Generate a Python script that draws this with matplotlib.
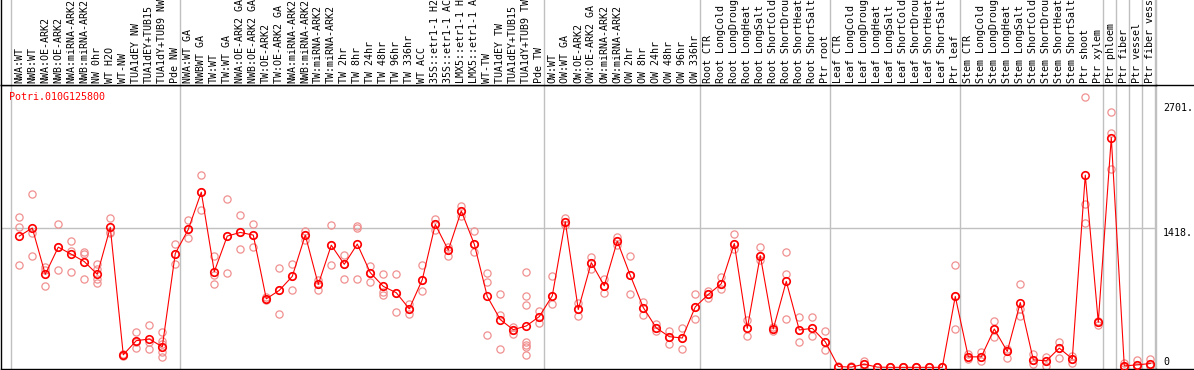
import matplotlib
matplotlib.use('Agg')
import matplotlib.pyplot as plt
from matplotlib.lines import Line2D
from matplotlib.transforms import blended_transform_factory

gene = 'Potri.010G125800'

names = [
    'NWA:WT', 'NWB:WT', 'NWA:OE-ARK2', 'NWB:OE-ARK2', 'NWA:miRNA-ARK2', 'NWB:miRNA-ARK2',
    'NW 0hr', 'WT H2O', 'WT-NW', 'TUA1dEY NW', 'TUA1dEY+TUB15', 'TUA1dY+TUB9 NW', 'Pde NW',
    'NWA:WT GA', 'NWBWT GA', 'TW:WT', 'TW:WT GA', 'NWA:OE-ARK2 GA', 'NWB:OE-ARK2 GA',
    'TW:OE-ARK2', 'TW:OE-ARK2 GA', 'NWA:miRNA-ARK2', 'NWB:miRNA-ARK2', 'TW:miRNA-ARK2',
    'TW:miRNA-ARK2', 'TW 2hr', 'TW 8hr', 'TW 24hr', 'TW 48hr', 'TW 96hr', 'TW 336hr',
    'WT ACC', '35S::etr1-1 H2O', '35S::etr1-1 ACC', 'LMX5::etr1-1 H2O', 'LMX5::etr1-1 ACC',
    'WT-TW', 'TUA1dEY TW', 'TUA1dEY+TUB15', 'TUA1dY+TUB9 TW', 'Pde TW',
    'OW:WT', 'OW:WT GA', 'OW:OE-ARK2', 'OW:OE-ARK2 GA', 'OW:miRNA-ARK2', 'OW:miRNA-ARK2',
    'OW 2hr', 'OW 8hr', 'OW 24hr', 'OW 48hr', 'OW 96hr', 'OW 336hr',
    'Root CTR', 'Root LongCold', 'Root LongDrought', 'Root LongHeat', 'Root LongSalt',
    'Root ShortCold', 'Root ShortDrought', 'Root ShortHeat', 'Root ShortSalt', 'Ptr root',
    'Leaf CTR', 'Leaf LongCold', 'Leaf LongDrought', 'Leaf LongHeat', 'Leaf LongSalt',
    'Leaf ShortCold', 'Leaf ShortDrought', 'Leaf ShortHeat', 'Leaf ShortSalt', 'Ptr leaf',
    'Stem CTR', 'Stem LongCold', 'Stem LongDrought', 'Stem LongHeat', 'Stem LongSalt',
    'Stem ShortCold', 'Stem ShortDrought', 'Stem ShortHeat', 'Stem ShortSalt',
    'Ptr shoot', 'Ptr xylem', 'Ptr phloem', 'Ptr fiber', 'Ptr vessel', 'Ptr fiber vessel',
]

means = [
    1339, 1421, 949, 1226, 1154, 1079, 949, 1428, 128, 272, 289, 210, 1161,
    1407, 1787, 976, 1339, 1376, 1349, 699, 785, 928, 1349, 846, 1246, 1051, 1257,
    966, 826, 761, 597, 894, 1458, 1195, 1595, 1257, 723, 487, 384, 422, 518,
    730, 1486, 590, 1068, 832, 1287, 938, 610, 402, 313, 299, 617,
    743, 853, 1263, 398, 1140, 391, 877, 381, 398, 261,
    8, 2, 32, 2, 0, 0, 0, 0, 0, 723,
    107, 107, 391, 162, 661, 77, 66, 196, 87, 1961, 460,
    2344, 15, 25, 39,
]

reps = [
    [1530, 1428, 1041], [1766, 1366, 1133], [1024, 990, 832], [1458, 1226, 997],
    [1287, 1188, 976], [1178, 1154, 904], [1058, 1000, 904, 860], [1520, 1380, 1373],
    [135, 128, 120], [357, 262, 196], [436, 254, 186], [357, 265, 237, 152, 107],
    [1253, 1161, 1058],
    [1503, 1407, 1322], [1961, 1787, 1605], [1133, 938, 853], [1715, 1339, 966],
    [1551, 1376, 1212], [1458, 1349, 1229], [716, 699, 682], [1017, 785, 545],
    [1058, 928, 791], [1393, 1349, 1298], [887, 846, 791], [1448, 1246, 1041],
    [1147, 1051, 897], [1441, 1421, 897], [1031, 966, 874], [956, 764, 740],
    [956, 761, 569], [641, 597, 545], [1041, 894, 774], [1513, 1458, 1400],
    [1229, 1195, 1137], [1646, 1595, 1545], [1390, 1257, 1178], [966, 870, 330],
    [743, 535, 186], [408, 384, 340], [976, 723, 631, 254, 231, 203, 125],
    [572, 518, 453],
    [928, 730, 641], [1520, 1486, 1450], [658, 590, 528], [1127, 1068, 1007],
    [897, 832, 757], [1325, 1287, 1250], [1133, 938, 743], [665, 610, 538],
    [443, 402, 367], [367, 313, 237], [402, 299, 186], [750, 617, 494],
    [778, 743, 710], [921, 853, 795], [1359, 1263, 1212], [484, 398, 320],
    [1226, 1140, 1092], [410, 391, 374], [1174, 949, 494], [518, 381, 261],
    [518, 398, 320], [374, 261, 176],
    [15, 8, 0], [10, 2, 0], [66, 32, 0], [5, 2, 0], [0, 0, 0], [0, 0, 0],
    [0, 0, 0], [0, 0, 0], [0, 0, 0], [1041, 723, 391],
    [135, 107, 83], [152, 107, 66], [470, 391, 306], [186, 162, 94],
    [846, 597, 528], [135, 77, 32], [107, 66, 15], [254, 196, 94], [120, 87, 49],
    [2757, 1667, 1475], [477, 460, 436],
    [2607, 2392, 2023], [49, 15, 0], [73, 25, 0], [83, 39, 15],
]

# group separators (column index)
bounds = [0, 13, 41, 53, 63, 73, 84, 85, 86, 87, 88]
yticks = [2701, 1418, 0]

W, H = 1194, 370
gray = '#c0c0c0'
mono = 'DejaVu Sans Mono'
fs = 7.2

fig = plt.figure(figsize=(W / 100, H / 100), dpi=100)
left_px, right_px, head_px, bot_px = 1, 1156, 85, 369
ax = fig.add_axes([left_px / W, (H - bot_px) / H, (right_px - left_px) / W, (bot_px - head_px) / H])
hx = fig.add_axes([left_px / W, (H - head_px) / H, (right_px - left_px) / W, head_px / H])

col_px, start_px = 13, 10.7
xlim = ((left_px - start_px) / col_px, (right_px - start_px) / col_px)
xs = [i + 0.66 for i in range(len(names))]

for a in (ax, hx):
    a.set_xlim(*xlim)
    a.set_xticks([])
    a.set_yticks([])
    for b in bounds:
        a.axvline(b, color=gray, lw=1, zorder=0)
    a.spines['left'].set_color('black')
    a.spines['right'].set_color(gray)
    a.spines['bottom'].set_color('black')
    for s in a.spines.values():
        s.set_linewidth(1)
hx.spines['top'].set_visible(False)
hx.set_ylim(0, 1)

ax.set_ylim(-17, 2880)
ax.axhline(1418, color=gray, lw=1, zorder=0)

for x, r in zip(xs, reps):
    ax.plot([x] * len(r), r, 'o', mfc='none', mec='#f09090', ms=5.2, mew=0.9, zorder=2, clip_on=True)
ax.plot(xs, means, '-', color='red', lw=0.8, zorder=3)
ax.plot(xs, means, 'o', mfc='none', mec='red', ms=5.4, mew=1.2, zorder=4)

# header labels
for x, n in zip(xs, names):
    hx.text(x, 0.025, n, rotation=90, ha='center', va='bottom', fontsize=fs,
            family=mono, clip_on=True)

fig.text(9 / W, 1 - 97 / H, gene, color='red', fontsize=fs, family=mono, va='center')

tr = blended_transform_factory(fig.transFigure, ax.transData)
for v in yticks:
    lab = '0' if v == 0 else f'{v}.'
    ax.text(1163 / W, v, lab, transform=tr, fontsize=fs, family=mono,
            va='bottom' if v == 0 else 'top', ha='left', clip_on=False)

fig.add_artist(Line2D([right_px / W, 1], [1 - head_px / H] * 2, color='black', lw=1,
                      transform=fig.transFigure))
fig.add_artist(Line2D([right_px / W, 1], [(H - bot_px) / H] * 2, color='black', lw=1,
                      transform=fig.transFigure))

fig.savefig('out.png', dpi=100)
